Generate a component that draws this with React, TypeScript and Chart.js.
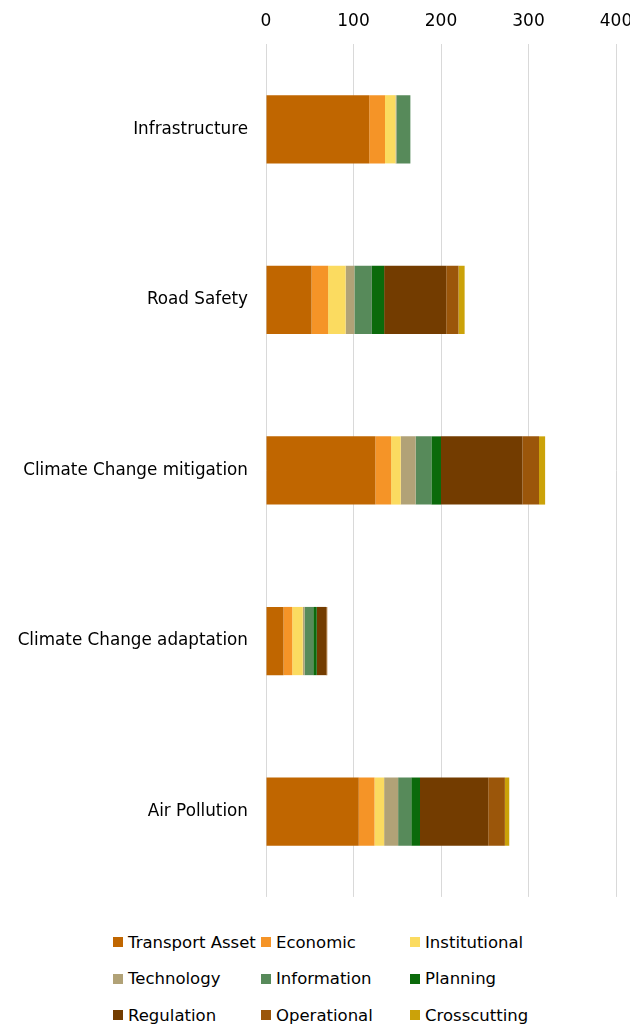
import React, { useEffect, useRef } from 'react';
import { Chart, registerables } from 'chart.js';

Chart.register(...registerables);

const categories = [
  'Infrastructure',
  'Road Safety',
  'Climate Change mitigation',
  'Climate Change adaptation',
  'Air Pollution',
];

const seriesNames = [
  'Transport Asset',
  'Economic',
  'Institutional',
  'Technology',
  'Information',
  'Planning',
  'Regulation',
  'Operational',
  'Crosscutting',
];

const transportAsset = [118, 52, 125, 20, 106];
const economic = [18, 19, 18, 10, 18];
const institutional = [12, 20, 11, 12, 11];
const technology = [1, 10, 17, 2, 16];
const information = [16, 20, 18, 10, 15];
const planning = [0, 14, 11, 4, 10];
const regulation = [0, 71, 93, 11, 78];
const operational = [0, 14, 19, 1, 19];
const crosscutting = [0, 7, 7, 0, 5];

const seriesValues = [
  transportAsset,
  economic,
  institutional,
  technology,
  information,
  planning,
  regulation,
  operational,
  crosscutting,
];

const seriesColors = [
  '#C06600',
  '#F59427',
  '#FBDB60',
  '#B1A277',
  '#578A5A',
  '#0B6A0B',
  '#733C00',
  '#9B560A',
  '#CBA209',
];

const xTickMin = 0;
const xTickMax = 400;
const xTickStep = 100;

const FONT = '"DejaVu Sans", sans-serif';

const legendCols = [113, 261, 410];
const legendRows = [942, 978.5, 1015];

export default function App() {
  const ref = useRef<HTMLCanvasElement | null>(null);

  useEffect(() => {
    document.body.style.margin = '0';
    const canvas = ref.current;
    if (!canvas) return;
    const chart = new Chart(canvas, {
      type: 'bar',
      data: {
        labels: categories,
        datasets: seriesNames.map((name, i) => ({
          label: name,
          data: seriesValues[i],
          backgroundColor: seriesColors[i],
          borderWidth: 0,
          barPercentage: 0.4,
          categoryPercentage: 1,
        })),
      },
      options: {
        indexAxis: 'y',
        responsive: false,
        animation: false,
        maintainAspectRatio: false,
        layout: { padding: { left: 0, right: 44, top: 0, bottom: 0 } },
        plugins: {
          legend: { display: false },
          tooltip: { enabled: false },
        },
        scales: {
          x: {
            position: 'top',
            stacked: true,
            min: xTickMin,
            max: xTickMax,
            ticks: {
              stepSize: xTickStep,
              color: '#000',
              font: { family: FONT, size: 17 },
              padding: 12,
            },
            grid: { color: '#d9d9d9', lineWidth: 1, drawTicks: false },
            border: { display: false },
            afterFit: (s: any) => {
              s.height = 44;
            },
          },
          y: {
            stacked: true,
            ticks: {
              color: '#000',
              font: { family: FONT, size: 16.8 },
              padding: 18,
            },
            grid: { display: false, drawTicks: false },
            border: { display: false },
            afterFit: (s: any) => {
              s.width = 266;
            },
          },
        },
      },
    });
    return () => chart.destroy();
  }, []);

  return (
    <div style={{ position: 'relative', width: 630, height: 1025, overflow: 'hidden', background: '#fff' }}>
      <canvas ref={ref} width={660} height={925} style={{ position: 'absolute', left: 0, top: 0 }} />
      {seriesNames.map((name, i) => {
        const col = legendCols[i % 3];
        const row = legendRows[Math.floor(i / 3)];
        return (
          <div
            key={name}
            style={{
              position: 'absolute',
              left: col,
              top: row - 10,
              height: 20,
              display: 'flex',
              alignItems: 'center',
              fontFamily: FONT,
              fontSize: 16.5,
              color: '#000',
              whiteSpace: 'nowrap',
            }}
          >
            <span
              style={{
                display: 'inline-block',
                width: 10,
                height: 10,
                background: seriesColors[i],
                marginRight: 5,
              }}
            />
            <span>{name}</span>
          </div>
        );
      })}
    </div>
  );
}
